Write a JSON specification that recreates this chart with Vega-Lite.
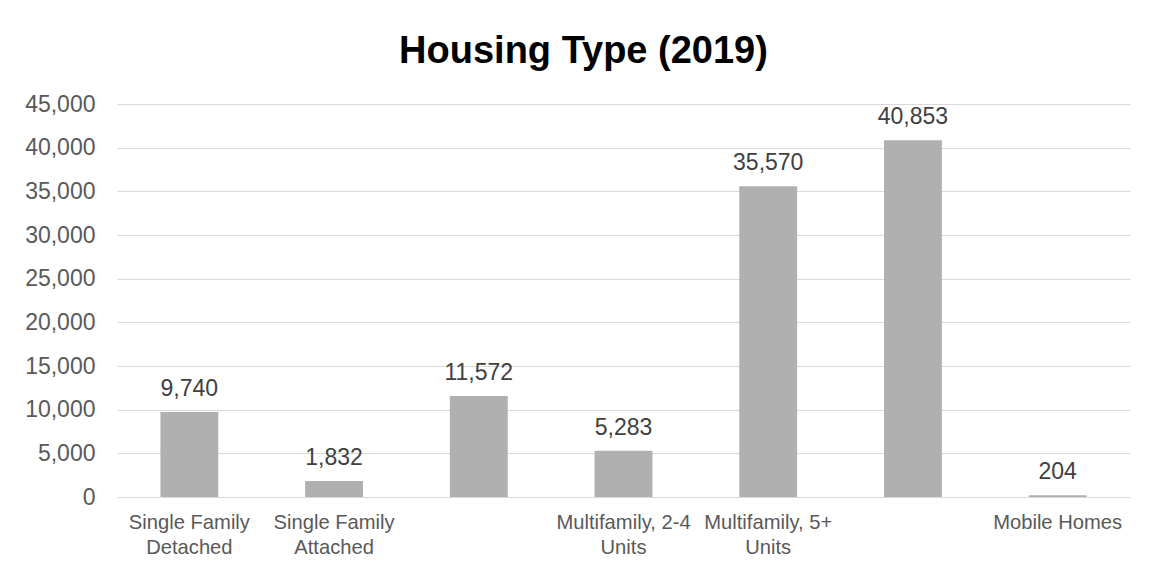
{
  "$schema": "https://vega.github.io/schema/vega-lite/v6.json",
  "width": 1013,
  "height": 393,
  "autosize": {"type": "none"},
  "padding": {"left": 117, "top": 104, "right": 21, "bottom": 70},
  "background": "white",
  "title": {
    "text": "Housing Type (2019)",
    "font": "Liberation Sans",
    "fontSize": 38,
    "fontWeight": "bold",
    "color": "#000000",
    "anchor": "middle",
    "dx": -40,
    "offset": 22
  },
  "data": {
    "values": [
      {"type": "Single Family|Detached", "units": 9740},
      {"type": "Single Family|Attached", "units": 1832},
      {"type": "blank1", "units": 11572},
      {"type": "Multifamily, 2-4|Units", "units": 5283},
      {"type": "Multifamily, 5+|Units", "units": 35570},
      {"type": "blank2", "units": 40853},
      {"type": "Mobile Homes", "units": 204}
    ]
  },
  "encoding": {
    "x": {
      "field": "type",
      "type": "nominal",
      "sort": null,
      "scale": {"paddingInner": 0.6, "paddingOuter": 0.3},
      "axis": {
        "title": null,
        "labelAngle": 0,
        "labelExpr": "test(/^blank/, datum.value) ? '' : split(datum.value, '|')",
        "labelFont": "Liberation Sans",
        "labelFontSize": 20.2,
        "labelColor": "#595959",
        "labelLineHeight": 25,
        "labelPadding": 15,
        "labelLimit": 200,
        "tickSize": 0,
        "domain": false,
        "grid": false
      }
    },
    "y": {
      "field": "units",
      "type": "quantitative",
      "scale": {"domain": [0, 45000], "nice": false},
      "axis": {
        "title": null,
        "values": [0, 5000, 10000, 15000, 20000, 25000, 30000, 35000, 40000, 45000],
        "format": ",d",
        "labelFont": "Liberation Sans",
        "labelFontSize": 23,
        "labelColor": "#595959",
        "labelPadding": 22,
        "tickSize": 0,
        "domain": false,
        "grid": true,
        "gridColor": "#d9d9d9",
        "gridWidth": 1
      }
    }
  },
  "layer": [
    {"mark": {"type": "bar", "color": "#b0b0b1"}},
    {
      "mark": {
        "type": "text",
        "baseline": "alphabetic",
        "dy": -16,
        "font": "Liberation Sans",
        "fontSize": 23,
        "color": "#404040"
      },
      "encoding": {"text": {"field": "units", "type": "quantitative", "format": ",d"}}
    }
  ],
  "config": {"view": {"stroke": null}}
}
